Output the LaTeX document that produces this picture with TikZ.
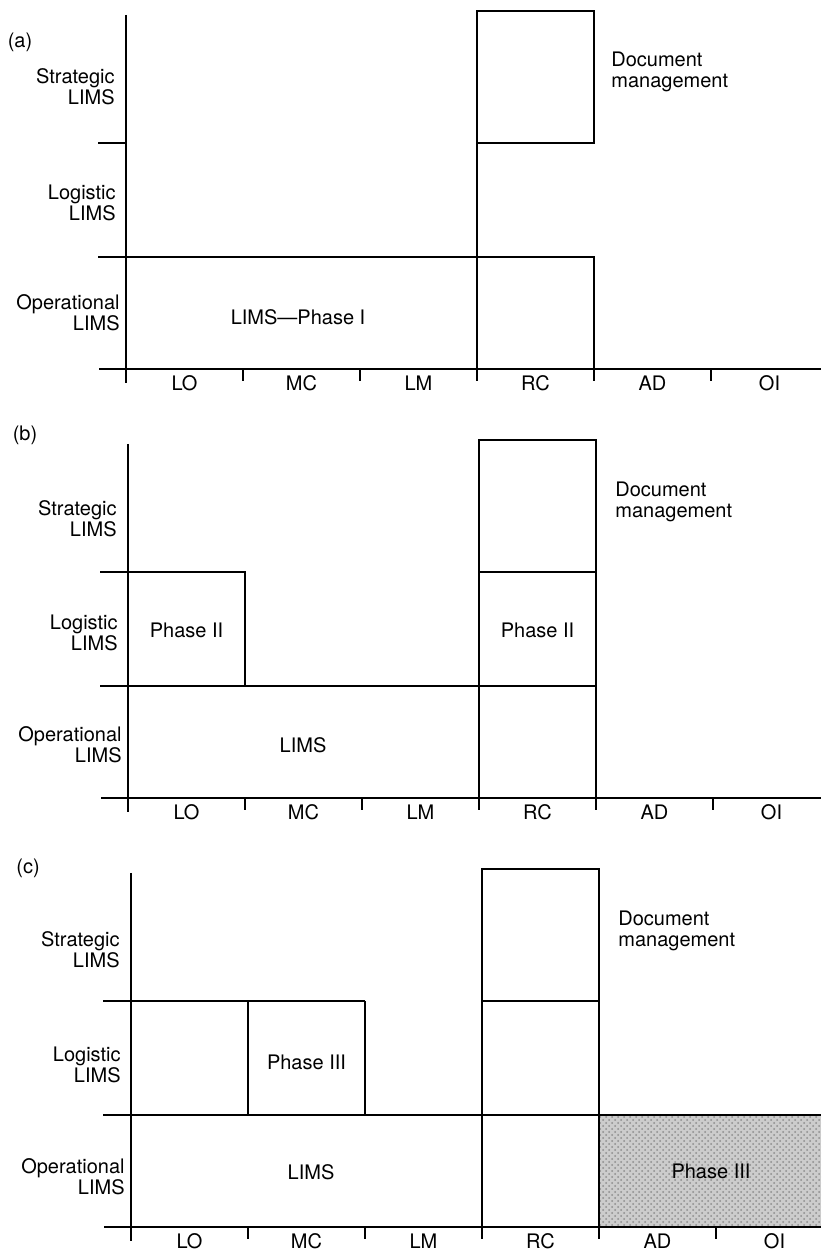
\documentclass[tikz,border=0pt]{standalone}
\usepackage{fontspec}
\setmainfont{TeX Gyre Heros}
\usetikzlibrary{patterns}

\begin{document}
\begin{tikzpicture}[x=0.5pt,y=0.5pt,
  chart/.style={line width=0.7pt},
  lbl/.style={font=\fontsize{10}{10.5}\selectfont, inner sep=0pt, align=right, anchor=east},
  txt/.style={font=\fontsize{10}{10.5}\selectfont, inner sep=0pt, align=left}]
\useasboundingbox (0,0) rectangle (821,1255);

% panel (a)
\node[txt] (tagA) at (20,1213) {(a)};
\begin{scope}[shift={(126,886)}]
\draw[chart] (-27,0) -- (695,0);
\draw[chart] (0,354) -- (0,-14);
\foreach \x in {117,234,351,468,585} \draw[chart] (\x,0) -- (\x,-12);
\draw[chart] (-28,226) -- (0,226);
\draw[chart] (-28,112) -- (468,112);
\draw[chart] (351,0) rectangle (468,112);
\draw[chart] (351,226) rectangle (468,358);
\draw[chart] (351,112) -- (351,226);
\node[lbl] (stratA) at (-11,282) {Strategic\\LIMS};
\node[lbl] (logA) at (-10,166) {Logistic\\LIMS};
\node[lbl] (operA) at (-6,56) {Operational\\LIMS};
\node[txt] (phaseA) at (172,52) {LIMS---Phase I};
\node[txt, anchor=west] (docA) at (485,297) {Document\\management};
\foreach \t [count=\i] in {LO,MC,LM,RC,AD,OI}
  \node[txt] (colA\i) at ({117*\i-58.5},-14) {\t};
\end{scope}

% panel (b)
\node[txt] (tagB) at (25,820) {(b)};
\begin{scope}[shift={(128,457)}]
\draw[chart] (-27,0) -- (693,0);
\draw[chart] (0,354) -- (0,-14);
\foreach \x in {117,234,351,468,585} \draw[chart] (\x,0) -- (\x,-12);
\draw[chart] (-28,226) -- (117,226) -- (117,112);
\draw[chart] (-28,112) -- (468,112);
\draw[chart] (351,0) rectangle (468,358);
\draw[chart] (351,226) -- (468,226);
\node[lbl] (stratB) at (-11,279) {Strategic\\LIMS};
\node[lbl] (logB) at (-10,165) {Logistic\\LIMS};
\node[lbl] (operB) at (-6,53) {Operational\\LIMS};
\node[txt] (phaseB1) at (58.5,168) {Phase II};
\node[txt] (phaseB2) at (409.5,168) {Phase II};
\node[txt] (limsB) at (175,53) {LIMS};
\node[txt, anchor=west] (docB) at (487,296) {Document\\management};
\foreach \t [count=\i] in {LO,MC,LM,RC,AD,OI}
  \node[txt] (colB\i) at ({117*\i-58.5},-14) {\t};
\end{scope}

% panel (c)
\node[txt] (tagC) at (28,387) {(c)};
\begin{scope}[shift={(131,28)}]
\fill[black!20] (468,0) rectangle (690,112);
\fill[pattern=crosshatch dots, pattern color=black!45] (468,0) rectangle (690,112);
\draw[chart] (-27,0) -- (690,0);
\draw[chart] (0,354) -- (0,-14);
\foreach \x in {117,234,351,468,585} \draw[chart] (\x,0) -- (\x,-12);
\draw[chart] (-28,226) -- (234,226);
\draw[chart] (117,226) -- (117,112);
\draw[chart] (234,226) -- (234,112);
\draw[chart] (-28,112) -- (690,112);
\draw[chart] (351,0) rectangle (468,358);
\draw[chart] (351,226) -- (468,226);
\node[lbl] (stratC) at (-11,277) {Strategic\\LIMS};
\node[lbl] (logC) at (-10,162) {Logistic\\LIMS};
\node[lbl] (operC) at (-6,50) {Operational\\LIMS};
\node[txt] (phaseC1) at (175.5,165) {Phase III};
\node[txt] (limsC) at (180,55) {LIMS};
\node[txt] (phaseC2) at (580,56) {Phase III};
\node[txt, anchor=west] (docC) at (487,296) {Document\\management};
\foreach \t [count=\i] in {LO,MC,LM,RC,AD,OI}
  \node[txt] (colC\i) at ({117*\i-58.5},-14) {\t};
\end{scope}
\end{tikzpicture}
\end{document}
